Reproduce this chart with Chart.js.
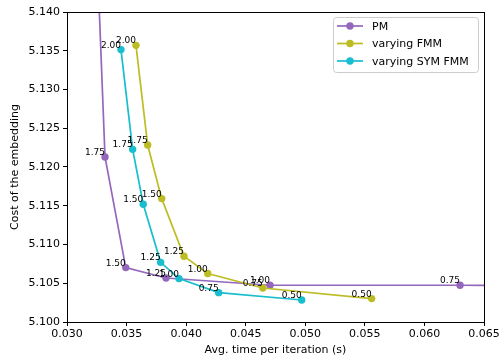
<!DOCTYPE html>
<html>
<head>
<meta charset="utf-8">
<script src="https://cdn.jsdelivr.net/npm/chart.js@4"></script>
<style>
  html, body { margin: 0; padding: 0; background: #fff; }
  canvas { display: block; }
</style>
</head>
<body>
<canvas id="chart" width="500" height="360"></canvas>
<script>
/* DATA */
const paramLabels = ["2.00", "1.75", "1.50", "1.25", "1.00", "0.75", "0.50"];

const pmTime = [0.0317, 0.03319, 0.03493, 0.03831, 0.04704, 0.06299, 0.0850];
const pmCost = [5.1800, 5.1213, 5.10702, 5.10568, 5.10474, 5.10474, 5.1046];

const fmmTime = [0.03579, 0.03677, 0.03795, 0.03982, 0.04181, 0.04643, 0.05557];
const fmmCost = [5.13570, 5.12284, 5.11592, 5.10848, 5.10625, 5.10439, 5.10302];

const symTime = [0.03453, 0.03551, 0.03640, 0.03786, 0.03940, 0.04273, 0.04970];
const symCost = [5.13515, 5.12228, 5.11519, 5.10770, 5.10560, 5.10379, 5.10284];

const xTicks = [0.030, 0.035, 0.040, 0.045, 0.050, 0.055, 0.060, 0.065];
const yTicks = [5.100, 5.105, 5.110, 5.115, 5.120, 5.125, 5.130, 5.135, 5.140];

const FONT = "'DejaVu Sans', sans-serif";

function pts(xs, ys) {
  return xs.map((x, i) => ({ x: x, y: ys[i] }));
}

function series(label, xs, ys, color, order) {
  return {
    label: label,
    data: pts(xs, ys),
    borderColor: color,
    backgroundColor: color,
    borderWidth: 1.7,
    pointRadius: 3.7,
    pointBorderWidth: 0,
    pointHoverRadius: 3.7,
    clip: 0,
    order: order,
  };
}

/* PLUGINS */
// box around the plot area (top and right sides too)
const frame = {
  id: "frame",
  afterDraw(chart) {
    const { ctx, chartArea: a } = chart;
    ctx.save();
    ctx.strokeStyle = "#000";
    ctx.lineWidth = 1;
    ctx.strokeRect(Math.round(a.left) + 0.5, Math.round(a.top) + 0.5,
      Math.round(a.right - a.left), Math.round(a.bottom - a.top));
    ctx.restore();
  },
};

// parameter value next to each point
const pointLabels = {
  id: "pointLabels",
  afterDatasetsDraw(chart) {
    const { ctx, chartArea: a } = chart;
    ctx.save();
    ctx.font = "9px " + FONT;
    ctx.fillStyle = "#000";
    ctx.textAlign = "right";
    ctx.textBaseline = "alphabetic";
    chart.data.datasets.forEach((ds, di) => {
      chart.getDatasetMeta(di).data.forEach((p, i) => {
        if (p.x < a.left || p.x > a.right || p.y < a.top || p.y > a.bottom) return;
        ctx.fillText(paramLabels[i], p.x, p.y - 2);
      });
    });
    ctx.restore();
  },
};

// legend with line + marker samples
const lineLegend = {
  id: "lineLegend",
  afterDraw(chart) {
    const { ctx } = chart;
    const x0 = 333, y0 = 17, w = 145, h = 55;
    ctx.save();
    ctx.beginPath();
    ctx.roundRect(x0 + 0.5, y0 + 0.5, w, h, 3);
    ctx.fillStyle = "rgba(255,255,255,0.8)";
    ctx.fill();
    ctx.strokeStyle = "#cccccc";
    ctx.lineWidth = 1;
    ctx.stroke();
    ctx.font = "11px " + FONT;
    ctx.textAlign = "left";
    ctx.textBaseline = "middle";
    chart.data.datasets.forEach((ds, i) => {
      const y = 26 + i * 17.5;
      ctx.strokeStyle = ds.borderColor;
      ctx.lineWidth = 1.7;
      ctx.beginPath();
      ctx.moveTo(337, y);
      ctx.lineTo(363, y);
      ctx.stroke();
      ctx.fillStyle = ds.borderColor;
      ctx.beginPath();
      ctx.arc(350, y, 3.7, 0, Math.PI * 2);
      ctx.fill();
      ctx.fillStyle = "#000";
      ctx.fillText(ds.label, 372, y + 1);
    });
    ctx.restore();
  },
};

/* CHART */
const tickFont = { family: FONT, size: 11 };

new Chart(document.getElementById("chart"), {
  type: "line",
  data: {
    datasets: [
      series("PM", pmTime, pmCost, "#9467bd", 3),
      series("varying FMM", fmmTime, fmmCost, "#bcbd22", 2),
      series("varying SYM FMM", symTime, symCost, "#17becf", 1),
    ],
  },
  options: {
    responsive: false,
    animation: false,
    devicePixelRatio: 1,
    layout: { padding: { left: 0, top: 12, right: 16, bottom: 0 } },
    plugins: {
      legend: { display: false },
      tooltip: { enabled: false },
    },
    scales: {
      x: {
        type: "linear",
        min: 0.030,
        max: 0.065,
        afterBuildTicks: (s) => { s.ticks = xTicks.map((v) => ({ value: v })); },
        afterFit: (s) => {
          s.height = 38;
          s.paddingLeft = 0;
          s.paddingRight = 0;
        },
        ticks: {
          font: tickFont,
          color: "#000",
          padding: 2,
          maxRotation: 0,
          autoSkip: false,
          callback: (v) => v.toFixed(3),
        },
        grid: { drawOnChartArea: false, tickLength: 4, color: "#000" },
        border: { display: true, color: "#000", width: 1 },
        title: {
          display: true,
          text: "Avg. time per iteration (s)",
          font: tickFont,
          color: "#000",
          padding: { top: 0, bottom: 3 },
        },
      },
      y: {
        type: "linear",
        min: 5.100,
        max: 5.140,
        afterBuildTicks: (s) => { s.ticks = yTicks.map((v) => ({ value: v })); },
        afterFit: (s) => {
          s.width = 67;
          s.paddingTop = 0;
          s.paddingBottom = 0;
        },
        ticks: {
          font: tickFont,
          color: "#000",
          padding: 3,
          autoSkip: false,
          callback: (v) => v.toFixed(3),
        },
        grid: { drawOnChartArea: false, tickLength: 4, color: "#000" },
        border: { display: true, color: "#000", width: 1 },
        title: {
          display: true,
          text: "Cost of the embedding",
          font: tickFont,
          color: "#000",
          padding: { top: 9, bottom: 0 },
        },
      },
    },
  },
  plugins: [frame, pointLabels, lineLegend],
});
</script>
</body>
</html>
